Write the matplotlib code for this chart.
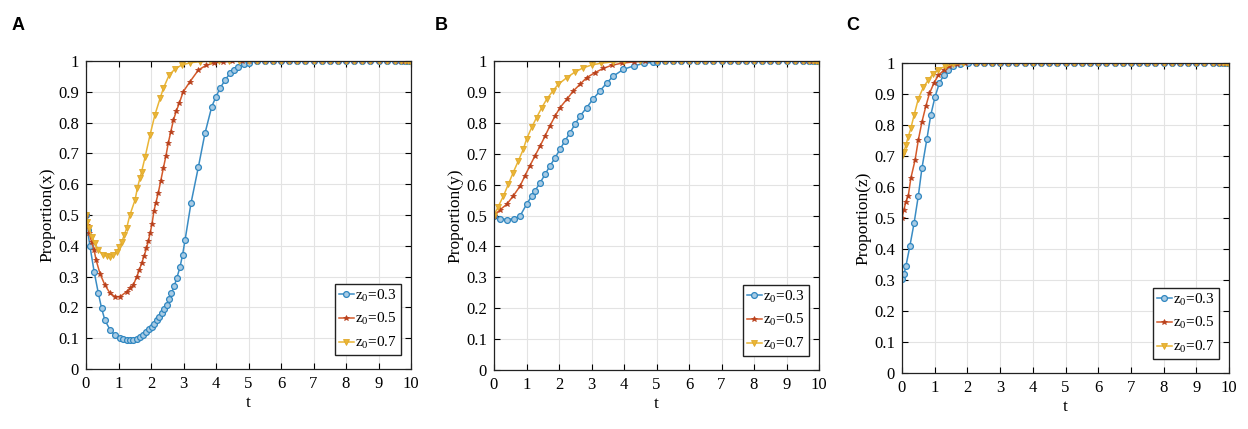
import matplotlib
matplotlib.use("Agg")
import matplotlib.pyplot as plt

plt.rcParams['font.family'] = ['Liberation Serif', 'DejaVu Serif']
plt.rcParams['mathtext.fontset'] = 'custom'
plt.rcParams['mathtext.rm'] = 'Liberation Serif'
plt.rcParams['mathtext.it'] = 'Liberation Serif:italic'

# ---------------- data ----------------
labels = [r'z$_0$=0.3', r'z$_0$=0.5', r'z$_0$=0.7']
ylabels = ['Proportion(x)', 'Proportion(y)', 'Proportion(z)']
panel_letters = ['A', 'B', 'C']
xticks = [0, 1, 2, 3, 4, 5, 6, 7, 8, 9, 10]
yticks = [0, 0.1, 0.2, 0.3, 0.4, 0.5, 0.6, 0.7, 0.8, 0.9, 1.0]
yticklabels = ['0', '0.1', '0.2', '0.3', '0.4', '0.5', '0.6', '0.7', '0.8', '0.9', '1']

# plateau samples (value 1) shared by the late part of each run
plat_t_AB = [5.25, 5.5, 5.75, 6.0, 6.25, 6.5, 6.75, 7.0, 7.25, 7.5, 7.75, 8.0,
             8.25, 8.5, 8.75, 9.0, 9.25, 9.5, 9.7, 9.82, 9.9, 9.96, 10.0]
plat_y_AB = [1.0, 1.0, 1.0, 1.0, 1.0, 1.0, 1.0, 1.0, 1.0, 1.0, 1.0, 1.0,
             1.0, 1.0, 1.0, 1.0, 1.0, 1.0, 1.0, 1.0, 1.0, 1.0, 1.0]
plat_t_C = [2.25, 2.5, 2.75, 3.0, 3.25, 3.5, 3.75, 4.0, 4.25, 4.5, 4.75, 5.0,
            5.25, 5.5, 5.75, 6.0, 6.25, 6.5, 6.75, 7.0, 7.25, 7.5, 7.75, 8.0,
            8.25, 8.5, 8.75, 9.0, 9.25, 9.5, 9.7, 9.82, 9.9, 9.96, 10.0]
plat_y_C = [1.0, 1.0, 1.0, 1.0, 1.0, 1.0, 1.0, 1.0, 1.0, 1.0, 1.0, 1.0,
            1.0, 1.0, 1.0, 1.0, 1.0, 1.0, 1.0, 1.0, 1.0, 1.0, 1.0, 1.0,
            1.0, 1.0, 1.0, 1.0, 1.0, 1.0, 1.0, 1.0, 1.0, 1.0, 1.0]

# Panel A : x(t)
A_t_03 = [0, 0.05, 0.12, 0.25, 0.38, 0.48, 0.58, 0.74, 0.89, 1.05, 1.15, 1.25,
          1.35, 1.46, 1.56, 1.66, 1.76, 1.86, 1.95, 2.02, 2.1, 2.17, 2.25, 2.33,
          2.41, 2.48, 2.56, 2.63, 2.71, 2.79, 2.89, 2.97, 3.05, 3.23, 3.46, 3.66,
          3.87, 4.0, 4.12, 4.28, 4.43, 4.56, 4.69, 4.85, 5.0]
A_y_03 = [0.5, 0.45, 0.40, 0.316, 0.246, 0.197, 0.159, 0.127, 0.11, 0.10, 0.096, 0.093,
          0.093, 0.094, 0.099, 0.105, 0.112, 0.121, 0.13, 0.137, 0.147, 0.159, 0.17, 0.181,
          0.194, 0.208, 0.226, 0.246, 0.268, 0.294, 0.33, 0.37, 0.42, 0.538, 0.657, 0.765,
          0.852, 0.884, 0.911, 0.938, 0.96, 0.972, 0.981, 0.989, 0.995]
A_t_05 = [0, 0.04, 0.1, 0.17, 0.25, 0.31, 0.43, 0.58, 0.74, 0.89, 1.05, 1.25,
          1.36, 1.46, 1.56, 1.64, 1.71, 1.79, 1.86, 1.92, 1.97, 2.03, 2.09, 2.15,
          2.22, 2.3, 2.38, 2.46, 2.53, 2.61, 2.69, 2.78, 2.87, 2.99, 3.2, 3.46,
          3.7, 3.95, 4.2, 4.5, 4.8, 5.0]
A_y_05 = [0.5, 0.468, 0.44, 0.413, 0.386, 0.354, 0.31, 0.273, 0.246, 0.235, 0.235, 0.251,
          0.262, 0.273, 0.30, 0.32, 0.343, 0.367, 0.392, 0.415, 0.44, 0.47, 0.513, 0.54,
          0.57, 0.611, 0.652, 0.692, 0.733, 0.771, 0.808, 0.838, 0.863, 0.90, 0.933, 0.971,
          0.986, 0.994, 0.997, 0.999, 1.0, 1.0]
A_t_07 = [0, 0.04, 0.1, 0.17, 0.28, 0.38, 0.53, 0.64, 0.74, 0.84, 0.94, 1.02,
          1.1, 1.18, 1.25, 1.35, 1.51, 1.58, 1.66, 1.71, 1.82, 1.97, 2.12, 2.28,
          2.38, 2.56, 2.75, 2.95, 3.2, 3.5, 3.8, 4.1, 4.4, 4.7, 5.0]
A_y_07 = [0.5, 0.478, 0.457, 0.43, 0.408, 0.386, 0.37, 0.366, 0.365, 0.37, 0.381, 0.395,
          0.413, 0.435, 0.457, 0.50, 0.549, 0.587, 0.62, 0.64, 0.689, 0.76, 0.825, 0.879,
          0.911, 0.955, 0.975, 0.987, 0.994, 0.998, 0.999, 1.0, 1.0, 1.0, 1.0]

# Panel B : y(t)
B_t_03 = [0, 0.18, 0.4, 0.63, 0.8, 1.0, 1.16, 1.26, 1.42, 1.57, 1.72, 1.88,
          2.03, 2.18, 2.34, 2.49, 2.65, 2.85, 3.04, 3.26, 3.47, 3.67, 3.98, 4.3,
          4.6, 4.9, 5.0]
B_y_03 = [0.5, 0.49, 0.487, 0.49, 0.498, 0.536, 0.563, 0.58, 0.606, 0.633, 0.66, 0.687,
          0.714, 0.741, 0.768, 0.795, 0.822, 0.849, 0.876, 0.903, 0.929, 0.951, 0.973, 0.984,
          0.992, 0.996, 0.998]
B_t_05 = [0, 0.18, 0.39, 0.59, 0.8, 0.95, 1.1, 1.26, 1.42, 1.57, 1.72, 1.88,
          2.03, 2.24, 2.44, 2.65, 2.85, 3.1, 3.36, 3.62, 3.93, 4.3, 4.65, 5.0]
B_y_05 = [0.5, 0.518, 0.536, 0.563, 0.595, 0.628, 0.66, 0.693, 0.725, 0.757, 0.79, 0.822,
          0.849, 0.876, 0.903, 0.925, 0.946, 0.962, 0.976, 0.986, 0.993, 0.997, 0.999, 1.0]
B_t_07 = [0, 0.13, 0.29, 0.44, 0.59, 0.75, 0.9, 1.0, 1.16, 1.31, 1.47, 1.62,
          1.81, 1.98, 2.24, 2.5, 2.75, 3.0, 3.3, 3.66, 4.0, 4.5, 5.0]
B_y_07 = [0.5, 0.529, 0.563, 0.601, 0.639, 0.677, 0.714, 0.747, 0.785, 0.817, 0.849, 0.876,
          0.903, 0.925, 0.946, 0.965, 0.978, 0.987, 0.993, 0.997, 0.999, 1.0, 1.0]

# Panel C : z(t)
C_t_03 = [0, 0.06, 0.12, 0.24, 0.37, 0.5, 0.61, 0.76, 0.88, 1.01, 1.14, 1.27,
          1.42, 1.57, 1.78, 2.03]
C_y_03 = [0.302, 0.318, 0.345, 0.409, 0.484, 0.572, 0.661, 0.754, 0.832, 0.891, 0.934, 0.96,
          0.979, 0.989, 0.996, 0.999]
C_t_05 = [0, 0.06, 0.12, 0.19, 0.27, 0.4, 0.5, 0.61, 0.73, 0.84, 0.98, 1.11,
          1.27, 1.45, 1.67, 1.93]
C_y_05 = [0.5, 0.527, 0.553, 0.57, 0.628, 0.687, 0.752, 0.81, 0.861, 0.902, 0.936, 0.96,
          0.976, 0.989, 0.996, 0.999]
C_t_07 = [0, 0.06, 0.12, 0.19, 0.27, 0.37, 0.5, 0.65, 0.81, 0.96, 1.11, 1.32,
          1.57, 1.88]
C_y_07 = [0.7, 0.714, 0.736, 0.762, 0.789, 0.832, 0.885, 0.921, 0.946, 0.966, 0.979, 0.989,
          0.996, 0.999]

panels = [
    [(A_t_03 + plat_t_AB, A_y_03 + plat_y_AB),
     (A_t_05 + plat_t_AB, A_y_05 + plat_y_AB),
     (A_t_07 + plat_t_AB, A_y_07 + plat_y_AB)],
    [(B_t_03 + plat_t_AB, B_y_03 + plat_y_AB),
     (B_t_05 + plat_t_AB, B_y_05 + plat_y_AB),
     (B_t_07 + plat_t_AB, B_y_07 + plat_y_AB)],
    [(C_t_03 + plat_t_C, C_y_03 + plat_y_C),
     (C_t_05 + plat_t_C, C_y_05 + plat_y_C),
     (C_t_07 + plat_t_C, C_y_07 + plat_y_C)],
]

# ---------------- styling ----------------
colors = ['#3a8cc4', '#d45a2a', '#eab536']
styles = [
    dict(marker='o', markersize=4.2, markerfacecolor='#a8cbe4', markeredgecolor='#2f86c0', markeredgewidth=0.9),
    dict(marker='*', markersize=4, markerfacecolor='#b8401c', markeredgecolor='#b8401c', markeredgewidth=0.5),
    dict(marker='v', markersize=4.8, markerfacecolor='#eab536', markeredgecolor='#e0a82a', markeredgewidth=0.6),
]

W, H = 1248, 429
fig = plt.figure(figsize=(W / 100, H / 100), dpi=100)

# axes boxes in pixels: left, top, right, bottom
boxes = [(86, 61, 411, 369), (494, 61, 819, 370), (902, 63, 1229, 373)]
letter_pos = [(12, 25), (435, 25), (846, 25)]

for i, (l, t, r, b) in enumerate(boxes):
    ax = fig.add_axes([l / W, 1 - b / H, (r - l) / W, (b - t) / H])
    for j, (tt, yy) in enumerate(panels[i]):
        ax.plot(tt, yy, color=colors[j], linewidth=1.1, label=labels[j], **styles[j])
    ax.set_xlim(0, 10)
    ax.set_ylim(0, 1)
    ax.set_xticks(xticks)
    ax.set_yticks(yticks)
    ax.set_yticklabels(yticklabels)
    ax.grid(True, color='#e3e3e3', linewidth=0.8)
    ax.set_axisbelow(True)
    ax.tick_params(direction='in', length=4, width=0.8, top=True, right=True,
                   labelsize=12, pad=5)
    for sp in ax.spines.values():
        sp.set_linewidth(0.9)
        sp.set_color('#222222')
    ax.set_xlabel('t', fontsize=12.5, labelpad=2)
    ax.set_ylabel(ylabels[i], fontsize=12.5, labelpad=2)
    axw, axh = r - l, b - t
    leg = ax.legend(loc='lower right', bbox_to_anchor=(1 - 10 / axw, 14 / axh),
                    borderaxespad=0, fontsize=11, frameon=True, fancybox=False,
                    edgecolor='#222222', framealpha=1, handlelength=0.95,
                    handletextpad=0.12, labelspacing=0.5, borderpad=0.25)
    leg.get_frame().set_linewidth(1.0)
    fig.text(letter_pos[i][0] / W, 1 - letter_pos[i][1] / H, panel_letters[i],
             fontsize=13, fontweight='bold', family=['Liberation Sans', 'DejaVu Sans'],
             ha='left', va='center')

fig.savefig('out.png', dpi=100, facecolor='white')
